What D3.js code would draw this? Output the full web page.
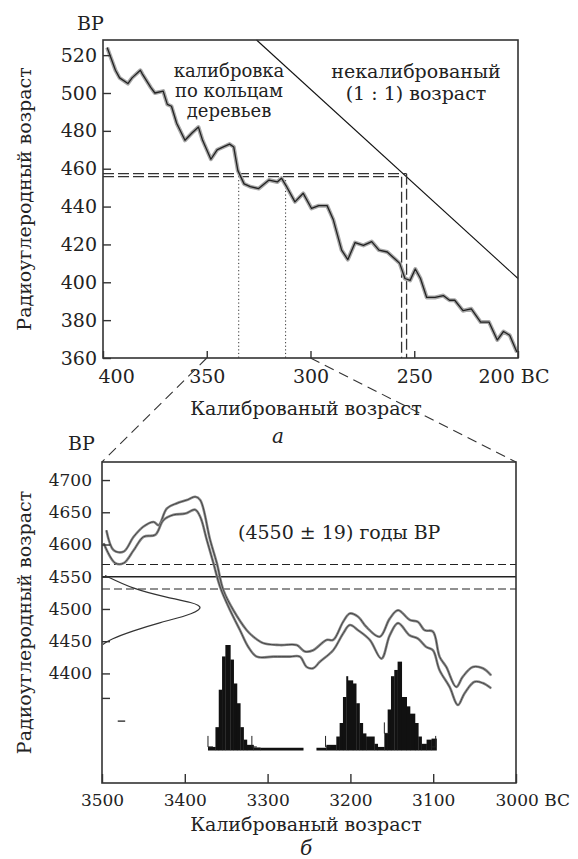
<!DOCTYPE html>
<html>
<head>
<meta charset="utf-8">
<script src="https://cdn.jsdelivr.net/npm/d3@7"></script>
<style>
  body { margin: 0; background: #fff; }
  svg text { font-family: 'DejaVu Serif', serif; fill: #222; }
</style>
</head>
<body>
<script>
// ---- panel a: tree-ring calibration (BC / BP) ----
const topYears = [398, 394, 392, 388, 386, 382, 381, 377, 375, 371, 369, 367, 364.5, 360.5, 357, 354, 352,
  348, 345, 342, 339, 337, 335, 332, 329, 325, 320, 316, 314, 311.5, 307.5, 303.5, 299.5, 296, 292, 289,
  285, 282, 278.5, 274.5, 270.5, 267, 263, 259, 257, 254.5, 252, 249.5, 247, 244, 240, 236, 233, 230.5,
  226.5, 222.5, 218, 214, 210, 207, 204, 200.5];
const topValues = [524, 512, 508, 505, 508, 512, 510, 503, 500, 501, 494, 493, 484, 475, 479, 482, 475,
  465, 470, 471.5, 473, 471.5, 459, 452, 450.5, 449.5, 454, 453, 455, 450.5, 442.5, 447, 439, 440.5, 440.5, 433,
  417, 412, 421, 419.5, 421.5, 417, 416, 412, 410, 402, 401, 407, 402, 392, 392, 393, 390.5,
  390.5, 385, 386, 379, 379, 369.5, 374, 372, 363];
const oneToOne = [[326, 528], [200, 402]];
const cutValues = [457.4, 455.8];       // dashed horizontals
const cutYears = [253.7, 256.1];        // dashed verticals
const dotYears = [334.6, 312];          // dotted verticals
const topYTicks = [360, 380, 400, 420, 440, 460, 480, 500, 520];
const topXTicks = [400, 350, 300, 250, 200];
const zoomFrom = [350, 300];

// ---- panel b: calibration of 4550 ± 19 BP ----
const upYears = [3494.7, 3485.9, 3473.9, 3461.8, 3449.8, 3437.7, 3431.7, 3421.6, 3409.5, 3397.5, 3387.5, 3381.4,
  3369.4, 3361.3, 3353.4, 3341.3, 3325.2, 3317.2, 3305.2, 3285.1, 3264.9, 3254.9, 3244.9, 3228.8, 3220.8,
  3208.8, 3200.7, 3190.7, 3180.6, 3164.6, 3152.5, 3142.5, 3128.4, 3118.4, 3110.4, 3100.4, 3092.3, 3084.2,
  3072.2, 3064.2, 3052.2, 3040.1, 3030.0];
const upValues = [4622, 4591, 4589, 4612, 4628, 4635, 4630, 4656, 4664, 4669, 4674, 4669,
  4607, 4571, 4529, 4498, 4467, 4457, 4447, 4444, 4444, 4434, 4436, 4452, 4452,
  4480, 4493, 4488, 4472, 4457, 4485, 4498, 4483, 4480, 4467, 4465, 4426, 4410,
  4379, 4395, 4410, 4408, 4397];
const lowYears = [3498.0, 3483.9, 3473.9, 3461.8, 3449.8, 3435.7, 3425.7, 3413.6, 3399.5, 3387.5, 3381.4, 3373.4,
  3365.4, 3357.3, 3345.3, 3333.3, 3323.3, 3313.1, 3293.1, 3273.0, 3261.0, 3252.9, 3244.9, 3236.9, 3220.8,
  3208.8, 3200.7, 3190.7, 3176.6, 3162.5, 3152.5, 3142.5, 3128.4, 3118.4, 3108.3, 3100.4, 3092.3, 3080.2,
  3070.2, 3062.2, 3050.1, 3040.1, 3030.0];
const lowValues = [4602, 4571, 4571, 4591, 4612, 4615, 4638, 4646, 4648, 4654, 4643, 4607,
  4571, 4534, 4498, 4467, 4441, 4426, 4426, 4426, 4426, 4410, 4408, 4418, 4436,
  4462, 4475, 4467, 4452, 4423, 4459, 4478, 4459, 4454, 4441, 4436, 4405, 4379,
  4351, 4369, 4387, 4385, 4377];
// measured date distribution (BP value, relative density)
const gaussValues = [4552, 4531, 4518, 4510, 4502, 4489, 4479, 4466, 4453, 4445];
const gaussDens = [0.03, 0.30, 0.63, 0.88, 1.0, 0.82, 0.56, 0.30, 0.08, 0.01];
const measured = 4550, sigma = 19;
// calendar probability histograms: bin edges (BC) and heights
const hist1Edges = [3372, 3363, 3359, 3355, 3351, 3345, 3341, 3337, 3333, 3329, 3325, 3317, 3309, 3257];
const hist1Probs = [0.02, 0.21, 0.57, 0.89, 1.0, 0.86, 0.63, 0.44, 0.21, 0.09, 0.04, 0.015, 0.012];
const hist2Edges = [3241, 3229, 3217, 3213, 3209, 3205, 3203, 3197, 3193, 3189, 3185, 3181, 3171, 3167, 3159];
const hist2Probs = [0.012, 0.04, 0.12, 0.25, 0.50, 0.70, 0.66, 0.63, 0.44, 0.25, 0.15, 0.12, 0.05, 0.02];
const hist3Edges = [3159, 3155, 3151, 3147, 3143, 3138, 3132, 3128, 3122, 3118, 3114, 3108, 3102, 3096];
const hist3Probs = [0.15, 0.38, 0.70, 0.76, 0.84, 0.50, 0.41, 0.34, 0.25, 0.12, 0.05, 0.09, 0.10];
const rangeMarks = [3372, 3319, 3230, 3159, 3097];
const rangeLevels = [0.02, 0.02, 0.02, 0.15, 0.02];
const botYTicks = [4400, 4450, 4500, 4550, 4600, 4650, 4700];
const botExtraTick = [4362];
const strayDash = [3481, 3472, 4326];
const botXTicks = [3500, 3400, 3300, 3200, 3100, 3000];

const w = 578;
const h = 859;
const svg = d3.select('body').append('svg')
  .attr('width', w)
  .attr('height', h);

//scales
const topX = d3.scaleLinear().domain([400, 200]).range([103, 518]);
const topY = d3.scaleLinear().domain([360, 528]).range([358, 40]);
const botX = d3.scaleLinear().domain([3500, 3000]).range([102, 516]);
const botY = d3.scaleLinear().domain([4230, 4728]).range([783, 462]);
const histY = d3.scaleLinear().domain([0, 1]).range([749, 645]);
const densX = d3.scaleLinear().domain([0, 1]).range([102, 205]);

const line = d3.line().x((d) => d[0]).y((d) => d[1]);

// ================= panel a =================
const gA = svg.append('g');

// 1:1 line
gA.append('path')
  .attr('d', line(oneToOne.map((d) => [topX(d[0]), topY(d[1])])))
  .attr('stroke', '#111').attr('stroke-width', 1.1).attr('fill', 'none');

// dashed guides
cutValues.forEach((v, i) => {
  gA.append('line')
    .attr('x1', topX(400)).attr('x2', topX(cutYears[i]))
    .attr('y1', topY(v)).attr('y2', topY(v))
    .attr('stroke', '#333').attr('stroke-width', 1.3).attr('stroke-dasharray', '11,4');
  gA.append('line')
    .attr('x1', topX(cutYears[i])).attr('x2', topX(cutYears[i]))
    .attr('y1', topY(v)).attr('y2', topY(360))
    .attr('stroke', '#333').attr('stroke-width', 1.3).attr('stroke-dasharray', '11,4');
});
dotYears.forEach((yr) => {
  gA.append('line')
    .attr('x1', topX(yr)).attr('x2', topX(yr))
    .attr('y1', topY(454)).attr('y2', topY(360))
    .attr('stroke', '#333').attr('stroke-width', 1).attr('stroke-dasharray', '1.2,2.4');
});

// calibration curve (fuzzy band)
const topPts = topYears.map((yr, i) => [topX(yr), topY(topValues[i])]);
gA.append('path').attr('d', line(topPts))
  .attr('fill', 'none').attr('stroke', '#a8a8a8').attr('stroke-width', 4)
  .attr('stroke-linejoin', 'round');
gA.append('path').attr('d', line(topPts))
  .attr('fill', 'none').attr('stroke', '#222').attr('stroke-width', 1.3)
  .attr('stroke-linejoin', 'round');

// frame
gA.append('rect')
  .attr('x', topX(400)).attr('y', topY(528))
  .attr('width', topX(200) - topX(400)).attr('height', topY(360) - topY(528))
  .attr('fill', 'none').attr('stroke', '#333').attr('stroke-width', 1.6);

// axes
const topYAxis = d3.axisLeft(topY).tickValues(topYTicks).tickSizeInner(-8).tickSizeOuter(0).tickPadding(6);
const yA = gA.append('g').attr('transform', `translate(${topX(400)},0)`).call(topYAxis);
const topXAxis = d3.axisBottom(topX).tickValues(topXTicks).tickSizeInner(-7).tickSizeOuter(0);
const xA = gA.append('g').attr('transform', `translate(0,${topY(360)})`).call(topXAxis);
[yA, xA].forEach((g) => {
  g.select('.domain').remove();
  g.selectAll('line').attr('stroke', '#333').attr('stroke-width', 1.4);
  g.selectAll('text').attr('font-size', 19).attr('fill', '#222');
});
xA.selectAll('text').attr('y', 25).attr('dy', 0);
xA.selectAll('text').filter((d) => d === 400).attr('text-anchor', 'start').attr('x', -5);
xA.selectAll('text').filter((d) => d === 200).text('200 BC').attr('text-anchor', 'start').attr('x', -40);

gA.append('text').attr('x', 77).attr('y', 30).attr('font-size', 19).text('BP');
gA.append('text')
  .attr('transform', `translate(31,${(topY(360) + topY(528)) / 2}) rotate(-90)`)
  .attr('text-anchor', 'middle').attr('font-size', 19).text('Радиоуглеродный возраст');
gA.append('text').attr('x', 306).attr('y', 415).attr('text-anchor', 'middle')
  .attr('font-size', 19).text('Калиброваный возраст');
gA.append('text').attr('x', 278).attr('y', 443).attr('text-anchor', 'middle')
  .attr('font-size', 20).attr('font-style', 'italic').text('а');

const leftNote = ['калибровка', 'по кольцам', 'деревьев'];
leftNote.forEach((t, i) => {
  gA.append('text').attr('x', 229).attr('y', 77 + i * 20).attr('text-anchor', 'middle')
    .attr('font-size', 18).text(t);
});
const rightNote = ['некалиброваный', '(1 : 1) возраст'];
rightNote.forEach((t, i) => {
  gA.append('text').attr('x', 416).attr('y', 78 + i * 22).attr('text-anchor', 'middle')
    .attr('font-size', 19).text(t);
});

// zoom lines between panels
const bCorners = [3500, 3000];
zoomFrom.forEach((yr, i) => {
  svg.append('line')
    .attr('x1', topX(yr)).attr('y1', topY(360))
    .attr('x2', botX(bCorners[i])).attr('y2', botY(4728))
    .attr('stroke', '#333').attr('stroke-width', 1.1).attr('stroke-dasharray', '10,6');
});

// ================= panel b =================
const gB = svg.append('g');

// measured value lines
[measured + sigma, measured - sigma].forEach((v) => {
  gB.append('line')
    .attr('x1', botX(3500)).attr('x2', botX(3000))
    .attr('y1', botY(v)).attr('y2', botY(v))
    .attr('stroke', '#222').attr('stroke-width', 1.2).attr('stroke-dasharray', '8,4');
});
gB.append('line')
  .attr('x1', botX(3500)).attr('x2', botX(3000))
  .attr('y1', botY(measured)).attr('y2', botY(measured))
  .attr('stroke', '#222').attr('stroke-width', 1.3);

// date distribution on the y axis
const gaussPts = gaussValues.map((v, i) => [densX(gaussDens[i]), botY(v)]);
gB.append('path')
  .attr('d', d3.line().x((d) => d[0]).y((d) => d[1]).curve(d3.curveBasis)(gaussPts))
  .attr('fill', 'none').attr('stroke', '#333').attr('stroke-width', 1.2);

// calibration curve envelope
[[upYears, upValues], [lowYears, lowValues]].forEach(([ys, vs]) => {
  const pts = ys.map((yr, i) => [botX(yr), botY(vs[i])]);
  const p = d3.line().x((d) => d[0]).y((d) => d[1]).curve(d3.curveCatmullRom)(pts);
  gB.append('path').attr('d', p)
    .attr('fill', 'none').attr('stroke', '#8a8a8a').attr('stroke-width', 2.6);
  gB.append('path').attr('d', p)
    .attr('fill', 'none').attr('stroke', '#444').attr('stroke-width', 1);
});

// calendar-age histograms
[[hist1Edges, hist1Probs], [hist2Edges, hist2Probs], [hist3Edges, hist3Probs]].forEach(([edges, probs]) => {
  gB.selectAll(null)
    .data(probs)
    .enter()
    .append('rect')
    .attr('x', (d, i) => botX(edges[i]))
    .attr('width', (d, i) => botX(edges[i + 1]) - botX(edges[i]) + 0.3)
    .attr('y', (d) => histY(d))
    .attr('height', (d) => histY(0) - histY(d) + 1.5)
    .attr('fill', '#111');
});
rangeMarks.forEach((yr, i) => {
  const x0 = botX(yr);
  const yb = histY(rangeLevels[i]);
  const foot = i === rangeMarks.length - 1 ? -5 : 5;
  gB.append('path')
    .attr('d', `M${x0},${yb - 11}V${yb}H${x0 + foot}`)
    .attr('fill', 'none').attr('stroke', '#222').attr('stroke-width', 1);
});

// frame
gB.append('rect')
  .attr('x', botX(3500)).attr('y', botY(4728))
  .attr('width', botX(3000) - botX(3500)).attr('height', botY(4230) - botY(4728))
  .attr('fill', 'none').attr('stroke', '#333').attr('stroke-width', 1.6);

// axes
const botYAxis = d3.axisLeft(botY).tickValues(botYTicks.concat(botExtraTick))
  .tickFormat((d) => (botExtraTick.includes(d) ? '' : d3.format('d')(d)))
  .tickSizeInner(-8).tickSizeOuter(0).tickPadding(10);
const yB = gB.append('g').attr('transform', `translate(${botX(3500)},0)`).call(botYAxis);
const botXAxis = d3.axisBottom(botX).tickValues(botXTicks).tickFormat(d3.format('d'))
  .tickSizeInner(-9).tickSizeOuter(0);
const xB = gB.append('g').attr('transform', `translate(0,${botY(4230)})`).call(botXAxis);
[yB, xB].forEach((g) => {
  g.select('.domain').remove();
  g.selectAll('line').attr('stroke', '#333').attr('stroke-width', 1.4);
  g.selectAll('text').attr('font-size', 17).attr('fill', '#222');
});
xB.selectAll('text').attr('y', 23).attr('dy', 0);
xB.selectAll('text').filter((d) => d === 3000).text('3000 BC').attr('text-anchor', 'start').attr('x', -21);

gB.append('line')
  .attr('x1', botX(strayDash[0])).attr('x2', botX(strayDash[1]))
  .attr('y1', botY(strayDash[2])).attr('y2', botY(strayDash[2]))
  .attr('stroke', '#333').attr('stroke-width', 1.4);

gB.append('text').attr('x', 68).attr('y', 450).attr('font-size', 19).text('BP');
gB.append('text')
  .attr('transform', `translate(31,${(botY(4230) + botY(4728)) / 2}) rotate(-90)`)
  .attr('text-anchor', 'middle').attr('font-size', 19).text('Радиоуглеродный возраст');
gB.append('text').attr('x', 306).attr('y', 831).attr('text-anchor', 'middle')
  .attr('font-size', 19).text('Калиброваный возраст');
gB.append('text').attr('x', 306).attr('y', 855).attr('text-anchor', 'middle')
  .attr('font-size', 20).attr('font-style', 'italic').text('б');
gB.append('text').attr('x', 238).attr('y', 539).attr('font-size', 19)
  .text(`(${measured} ± ${sigma}) годы BP`);
</script>
</body>
</html>
